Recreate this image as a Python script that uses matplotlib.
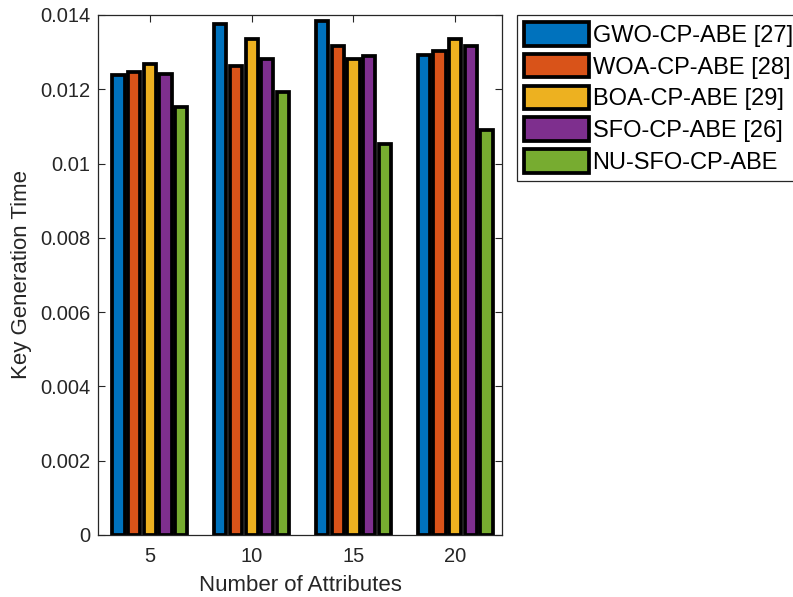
import numpy as np
import matplotlib
matplotlib.use("Agg")
import matplotlib.pyplot as plt

plt.rcParams['font.family'] = ['Liberation Sans', 'DejaVu Sans']

attributes = [5, 10, 15, 20]
methods = ['GWO-CP-ABE [27]', 'WOA-CP-ABE [28]', 'BOA-CP-ABE [29]',
           'SFO-CP-ABE [26]', 'NU-SFO-CP-ABE']
gwo = [0.01238, 0.01375, 0.01384, 0.01293]
woa = [0.01247, 0.01262, 0.01316, 0.01303]
boa = [0.01269, 0.01335, 0.01282, 0.01334]
sfo = [0.01242, 0.01282, 0.01290, 0.01317]
nu_sfo = [0.01152, 0.01192, 0.01053, 0.01091]
series = [gwo, woa, boa, sfo, nu_sfo]
colors = ['#0072BD', '#D95319', '#EDB120', '#7E2F8E', '#77AC30']

fig = plt.figure(figsize=(7.93, 5.97), dpi=100)
ax = fig.add_axes([0.1236, 0.1039, 0.633 - 0.1236, 0.9749 - 0.1039])

step = 0.77
width = 0.6
x = np.array(attributes, dtype=float)
for i, (vals, c, name) in enumerate(zip(series, colors, methods)):
    ax.bar(x + (i - 2) * step, vals, width, color=c, edgecolor='black',
           linewidth=2.7, label=name, zorder=2)

ax.set_xlim(2.45, 22.3)
ax.set_ylim(0, 0.014)
ax.set_xticks(attributes)
ax.set_yticks(np.arange(0, 0.0141, 0.002))
ax.set_yticklabels(['0', '0.002', '0.004', '0.006', '0.008', '0.01', '0.012', '0.014'])
ax.tick_params(direction='in', top=True, right=True, length=5, width=0.8,
               labelsize=14.5, colors='#262626')
ax.tick_params(axis='x', pad=8.5)
ax.tick_params(axis='y', pad=5.5)
for s in ax.spines.values():
    s.set_color('#262626')
    s.set_linewidth(0.9)
    s.set_zorder(3)

ax.set_xlabel('Number of Attributes', fontsize=16, color='#262626', labelpad=7)
ax.set_ylabel('Key Generation Time', fontsize=16, color='#262626', labelpad=6)

leg = ax.legend(loc='upper left', bbox_to_anchor=(517 / 793, 1 - 15 / 597),
                bbox_transform=fig.transFigure, fontsize=17, frameon=True,
                fancybox=False, edgecolor='#262626', framealpha=1,
                handlelength=2.75, handleheight=1.15, handletextpad=0.15,
                labelspacing=0.3, borderpad=0.3, borderaxespad=0)
leg.get_frame().set_linewidth(0.9)

fig.savefig('out.png', dpi=100)
